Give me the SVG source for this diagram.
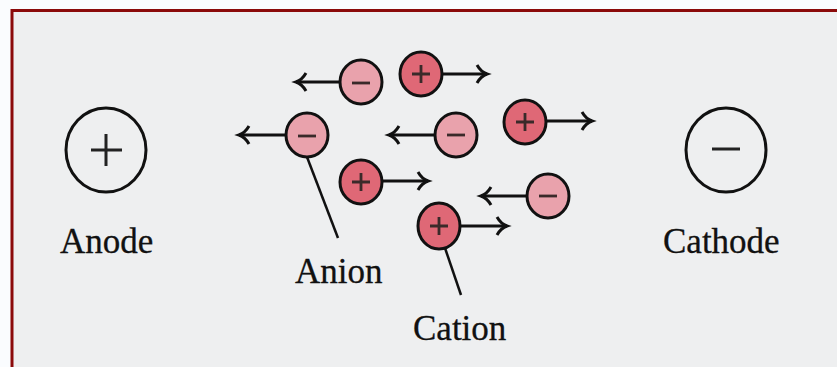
<svg xmlns="http://www.w3.org/2000/svg" width="837" height="367" viewBox="0 0 837 367">
<defs>
<style>
.txt{font-family:"Liberation Serif","Times New Roman",serif;font-size:35px;fill:#111;stroke:#111;stroke-width:0.3}
.elec{fill:none;stroke:#111;stroke-width:3}
.anion{fill:#e9a2ac;stroke:#111;stroke-width:3}
.cation{fill:#df6876;stroke:#111;stroke-width:3}
.sign{stroke:#3a2a2a;stroke-width:2.8;fill:none}
.esign{stroke:#222;stroke-width:3;fill:none}
.arrow{stroke:#111;stroke-width:3;fill:none;marker-end:url(#head)}
.lead{stroke:#111;stroke-width:2.5;fill:none}
</style>
<marker id="head" markerUnits="userSpaceOnUse" markerWidth="18" markerHeight="22" refX="13" refY="11" orient="auto">
<path d="M3,2 Q7,9 13,11 Q7,13 3,20" stroke="#111" stroke-width="3" fill="none"/>
</marker>
</defs>
<rect x="0" y="0" width="837" height="367" fill="#fafcfe"/>
<rect x="12" y="10" width="825" height="357" fill="#eeeff0"/>
<path d="M12,367 V10.5 H837" fill="none" stroke="#8b0a0a" stroke-width="3"/>

<g id="connectors">
<path class="arrow" d="M340,82 H296"/>
<path class="arrow" d="M442,74 H487"/>
<path class="arrow" d="M286,135 H239"/>
<path class="arrow" d="M435,135 H389"/>
<path class="arrow" d="M546,121 H592"/>
<path class="arrow" d="M382,181 H428"/>
<path class="arrow" d="M527,196 H481"/>
<path class="arrow" d="M460,226 H507"/>
<path class="lead" d="M307,157 L338,238"/>
<path class="lead" d="M445,248 L461,295"/>
</g>

<g id="anode">
<ellipse class="elec" cx="106" cy="150" rx="40" ry="42"/>
<path class="esign" d="M91,150 H122 M106,134 V166"/>
<text class="txt" x="60" y="253">Anode</text>
</g>
<g id="cathode">
<ellipse class="elec" cx="726" cy="150" rx="40" ry="42"/>
<path class="esign" d="M712,149 H740"/>
<text class="txt" x="663" y="253">Cathode</text>
</g>

<g id="anion1"><ellipse class="anion" cx="361" cy="82" rx="21" ry="22"/><path class="sign" d="M352,83 H370"/></g>
<g id="cation1"><ellipse class="cation" cx="421" cy="74" rx="21" ry="22"/><path class="sign" d="M412,74 H430 M421,65 V83"/></g>
<g id="anion2"><ellipse class="anion" cx="307" cy="135" rx="21" ry="22"/><path class="sign" d="M298,136 H316"/></g>
<g id="anion3"><ellipse class="anion" cx="456" cy="135" rx="21" ry="22"/><path class="sign" d="M447,135 H465"/></g>
<g id="cation2"><ellipse class="cation" cx="525" cy="122" rx="21" ry="22"/><path class="sign" d="M516,122 H534 M525,113 V131"/></g>
<g id="cation3"><ellipse class="cation" cx="361" cy="182" rx="21" ry="22"/><path class="sign" d="M352,182 H370 M361,173 V191"/></g>
<g id="anion4"><ellipse class="anion" cx="548" cy="196" rx="21" ry="22"/><path class="sign" d="M539,196 H557"/></g>
<g id="cation4"><ellipse class="cation" cx="439" cy="226" rx="21" ry="23"/><path class="sign" d="M430,226 H448 M439,217 V235"/></g>

<g id="anion-label"><text class="txt" x="295" y="283">Anion</text></g>
<g id="cation-label"><text class="txt" x="413" y="340">Cation</text></g>
</svg>
